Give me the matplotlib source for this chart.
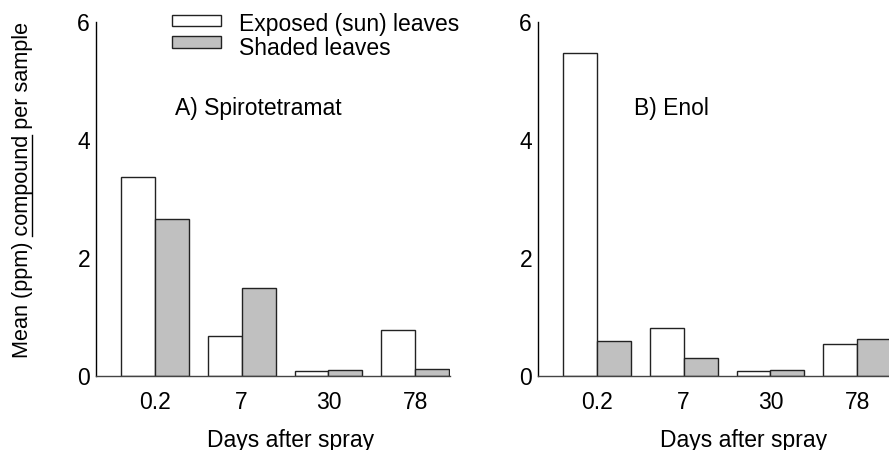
import matplotlib
matplotlib.use("Agg")
import matplotlib.pyplot as plt
import numpy as np
from matplotlib.patches import Rectangle
from matplotlib.lines import Line2D

plt.rcParams['font.family'] = ['Liberation Sans', 'DejaVu Sans']

days = ["0.2", "7", "30", "78"]
spiro_exposed = [3.37, 0.67, 0.08, 0.78]
spiro_shaded = [2.66, 1.49, 0.10, 0.12]
enol_exposed = [5.47, 0.81, 0.08, 0.54]
enol_shaded = [0.59, 0.31, 0.10, 0.62]
yticks = [0, 2, 4, 6]
series_labels = ["Exposed (sun) leaves", "Shaded leaves"]
panel_titles = ["A) Spirotetramat", "B) Enol"]
ylabel_parts = ["Mean (ppm) ", "compound", " per sample"]

FS = 16.5
FS_Y = 15.6
W, H = 889, 450
fig = plt.figure(figsize=(W / 100, H / 100), dpi=100)

shade_color = '#c0c0c0'
edge = '#222222'
series_colors = ['white', shade_color]
bw = 0.39
x = np.arange(1, len(days) + 1)

def make_panel(left_px, exposed, shaded):
    ax = fig.add_axes([left_px / W, 1 - 376 / H, 354 / W, 354 / H])
    ax.bar(x - bw / 2, exposed, width=bw, color=series_colors[0], edgecolor=edge, linewidth=1.0)
    ax.bar(x + bw / 2, shaded, width=bw, color=series_colors[1], edgecolor=edge, linewidth=1.0)
    ax.set_xlim(0.322, 4.40)
    ax.set_ylim(0, 6)
    ax.set_yticks(yticks)
    ax.set_yticklabels([str(v) for v in yticks], fontsize=FS)
    ax.set_xticks(x)
    ax.set_xticklabels(days, fontsize=FS)
    ax.tick_params(axis='both', length=0)
    ax.tick_params(axis='y', pad=4.3)
    ax.tick_params(axis='x', pad=11)
    for s in ['top', 'right']:
        ax.spines[s].set_visible(False)
    ax.spines['left'].set_color('black')
    ax.spines['left'].set_linewidth(1.0)
    ax.spines['bottom'].set_color('#444444')
    ax.spines['bottom'].set_linewidth(1.0)
    ax.patch.set_alpha(0)
    return ax

ax1 = make_panel(96, spiro_exposed, spiro_shaded)
ax2 = make_panel(538, enol_exposed, enol_shaded)

ax1.text((175 - 96) / 354, (376 - 108) / 354, panel_titles[0], transform=ax1.transAxes,
         ha='left', va='center', fontsize=FS)
ax2.text((634 - 538) / 354, (376 - 108) / 354, panel_titles[1], transform=ax2.transAxes,
         ha='left', va='center', fontsize=FS)

fig.text(291 / W, 1 - 440 / H, "Days after spray", ha='center', va='center', fontsize=FS)
fig.text(744 / W, 1 - 440 / H, "Days after spray", ha='center', va='center', fontsize=FS)

# y label with underlined word
full = "".join(ylabel_parts)
cx, cy = 23, 190  # pixel centre (from top)
fig.text(cx / W, 1 - cy / H, full, rotation=90, ha='center', va='center', fontsize=FS_Y)
renderer = fig.canvas.get_renderer()

def text_width(s):
    t = fig.text(0, 0, s, fontsize=FS_Y)
    w = t.get_window_extent(renderer).width
    t.remove()
    return w

L = text_width(full)
w_pre = text_width(ylabel_parts[0] + ylabel_parts[1]) - text_width(ylabel_parts[1])
w_word = text_width(ylabel_parts[1])
y_start = cy + L / 2 - w_pre   # pixels from top
y_end = y_start - w_word
ux = 32
fig.add_artist(Line2D([ux / W, ux / W], [1 - y_start / H, 1 - y_end / H],
                      transform=fig.transFigure, color='black', linewidth=1.0))

# legend (drawn manually to match the original layout)
box_tops = [15, 36.5]
text_baselines = [30.7, 55]
for top, base, col, lab in zip(box_tops, text_baselines, series_colors, series_labels):
    fig.add_artist(Rectangle((172 / W, 1 - (top + 11) / H), 49 / W, 11 / H,
                             transform=fig.transFigure, facecolor=col, edgecolor=edge,
                             linewidth=1.0))
    fig.text(239 / W, 1 - base / H, lab, ha='left', va='baseline', fontsize=FS)

fig.savefig("out.png", dpi=100)
